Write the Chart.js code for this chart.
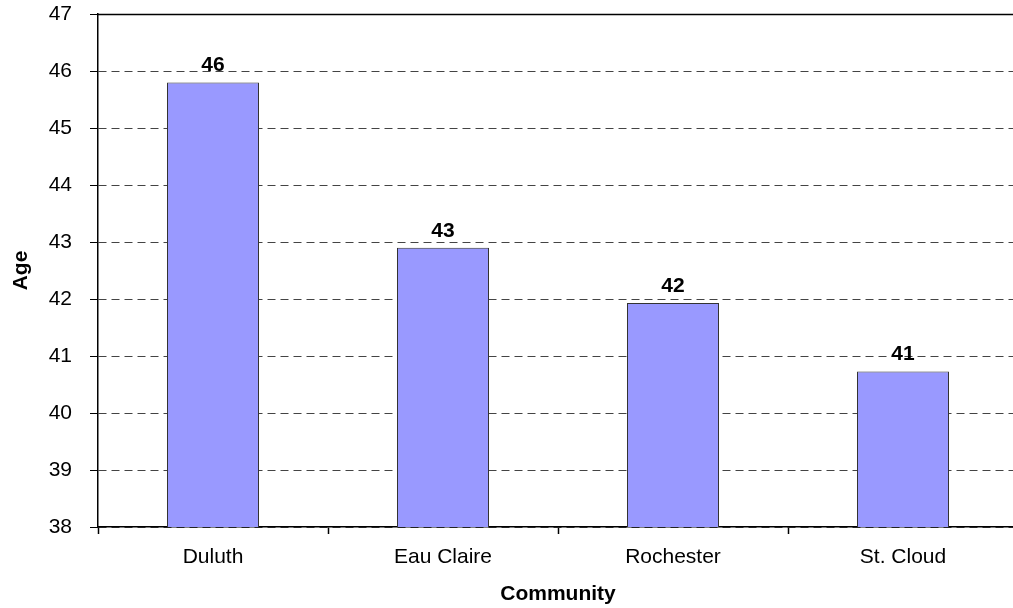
<!DOCTYPE html>
<html>
<head>
<meta charset="utf-8">
<title>Median Age by Community</title>
<script src="https://cdn.jsdelivr.net/npm/chart.js@4.4.1/dist/chart.umd.min.js"></script>
<style>
    html, body { margin: 0; padding: 0; background: #ffffff; overflow: hidden; }
    #wrap { width: 1020px; height: 608px; }
</style>
</head>
<body>
<div id="wrap"><canvas id="bar-chart" width="1020" height="608"></canvas></div>
<script>
var communities = ['Duluth', 'Eau Claire', 'Rochester', 'St. Cloud'];
var medianAge = [45.8, 42.9, 41.93, 40.73];
var yTicks = [38, 39, 40, 41, 42, 43, 44, 45, 46, 47];

var FONT = "Arial, 'Liberation Sans', sans-serif";

// value labels over each bar, rounded to whole years
var barLabels = {
    id: 'barLabels',
    afterDatasetsDraw: function (chart) {
        var ctx = chart.ctx;
        var meta = chart.getDatasetMeta(0);
        ctx.save();
        ctx.font = 'bold 21px ' + FONT;
        ctx.fillStyle = '#000000';
        ctx.textAlign = 'center';
        ctx.textBaseline = 'alphabetic';
        meta.data.forEach(function (bar, i) {
            ctx.fillText(Math.round(medianAge[i]), bar.x, bar.y - 11);
        });
        ctx.restore();
    }
};

// top edge of the plot frame
var frameTop = {
    id: 'frameTop',
    afterDraw: function (chart) {
        var a = chart.chartArea;
        var ctx = chart.ctx;
        ctx.save();
        ctx.strokeStyle = '#000000';
        ctx.lineWidth = 1.5;
        ctx.beginPath();
        ctx.moveTo(a.left, a.top + 0.5);
        ctx.lineTo(a.right, a.top + 0.5);
        ctx.stroke();
        ctx.restore();
    }
};

function createBarChart(labels, data) {
    var ctx = document.getElementById('bar-chart');
    return new Chart(ctx, {
        type: 'bar',
        data: {
            labels: labels,
            datasets: [{
                label: 'Age',
                backgroundColor: '#9999FF',
                borderColor: '#333333',
                borderWidth: 1,
                barPercentage: 0.8,
                categoryPercentage: 0.5,
                data: data
            }]
        },
        options: {
            responsive: false,
            animation: false,
            devicePixelRatio: 1,
            layout: { padding: { top: 14, right: 2, bottom: 0, left: 0 } },
            plugins: {
                legend: { display: false },
                tooltip: { enabled: false }
            },
            scales: {
                x: {
                    afterFit: function (scale) {
                        scale.height = 81;
                        scale.paddingLeft = 0;
                        scale.paddingRight = 0;
                    },
                    grid: {
                        offset: true,
                        drawOnChartArea: false,
                        tickLength: 7,
                        tickColor: '#000000',
                        tickWidth: 1.5
                    },
                    border: { color: '#000000', width: 1.5 },
                    ticks: {
                        color: '#000000',
                        padding: 11,
                        maxRotation: 0,
                        font: { family: FONT, size: 21 }
                    },
                    title: {
                        display: true,
                        text: 'Community',
                        color: '#000000',
                        padding: { top: 0, bottom: 1 },
                        font: { family: FONT, size: 21, weight: 'bold' }
                    }
                },
                y: {
                    min: 38,
                    max: 47,
                    afterFit: function (scale) {
                        scale.width = 98;
                        scale.paddingTop = 0;
                        scale.paddingBottom = 0;
                    },
                    afterBuildTicks: function (scale) {
                        scale.ticks = yTicks.map(function (v) { return { value: v }; });
                    },
                    grid: {
                        color: '#444444',
                        lineWidth: 1,
                        tickLength: 8,
                        tickColor: '#000000'
                    },
                    border: { color: '#000000', width: 1.5, dash: [8, 5] },
                    ticks: {
                        color: '#000000',
                        padding: 18,
                        font: { family: FONT, size: 21 }
                    },
                    title: {
                        display: true,
                        text: 'Age',
                        color: '#000000',
                        padding: { top: 9, bottom: 0 },
                        font: { family: FONT, size: 21, weight: 'bold' }
                    }
                }
            }
        },
        plugins: [barLabels, frameTop]
    });
}

createBarChart(communities, medianAge);
</script>
</body>
</html>
